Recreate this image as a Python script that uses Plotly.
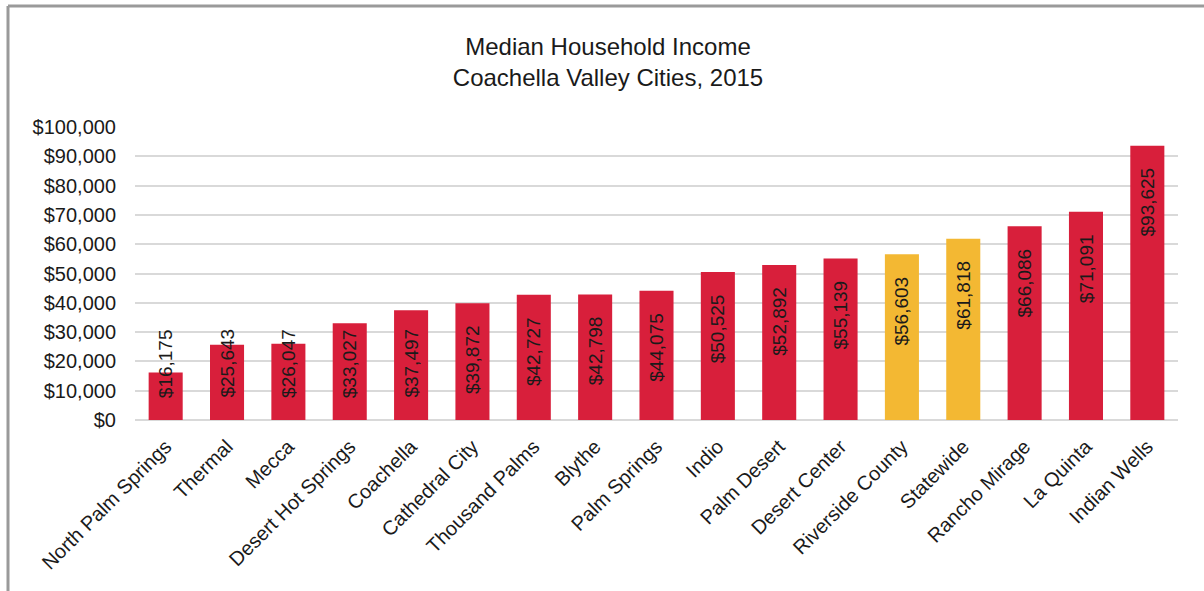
import plotly.graph_objects as go

# Median household income by place, 2015
places = [
    "North Palm Springs", "Thermal", "Mecca", "Desert Hot Springs", "Coachella",
    "Cathedral City", "Thousand Palms", "Blythe", "Palm Springs", "Indio",
    "Palm Desert", "Desert Center", "Riverside County", "Statewide",
    "Rancho Mirage", "La Quinta", "Indian Wells",
]
incomes = [
    16175, 25643, 26047, 33027, 37497, 39872, 42727, 42798, 44075, 50525,
    52892, 55139, 56603, 61818, 66086, 71091, 93625,
]
# Regional benchmarks are highlighted in gold
benchmarks = ["Riverside County", "Statewide"]

y_ticks = list(range(0, 100001, 10000))
y_tick_labels = [f"${t:,}" for t in y_ticks]

RED = "#D81F3B"
GOLD = "#F3B833"
FONT = "Liberation Sans, Arial, sans-serif"

W, H = 1204, 591
M_L, M_R, M_T, M_B = 135, 26, 127, 171
plot_h = H - M_T - M_B
y_max = 100000
px_per_unit = plot_h / y_max

colors = [GOLD if p in benchmarks else RED for p in places]

fig = go.Figure()
fig.add_trace(go.Bar(
    x=places,
    y=incomes,
    marker=dict(color=colors, line=dict(width=0)),
    hoverinfo="x+y",
))

# Value labels: near the top of tall bars, held above the base on short ones
annotations = []
for p, v in zip(places, incomes):
    label = f"${v:,}"
    if v * px_per_unit >= 110:
        annotations.append(dict(x=p, y=v, yanchor="top", yshift=-20))
    else:
        annotations.append(dict(x=p, y=0, yanchor="bottom", yshift=20))
    annotations[-1].update(
        text=label, textangle=-90, showarrow=False, xanchor="center",
        xref="x", yref="y", font=dict(family=FONT, size=19, color="#1a1a1a"),
    )

# Light gray frame along the top and left edges
fx0 = (8 - M_L) / (W - M_L - M_R)
fx1 = (W - M_L) / (W - M_L - M_R)
fy_top = 1 + (M_T - 6) / plot_h
fy_bot = -(M_B) / plot_h
shapes = [
    dict(type="line", xref="paper", yref="paper", x0=fx0, x1=fx1, y0=fy_top, y1=fy_top,
         line=dict(color="#9a9a9a", width=3)),
    dict(type="line", xref="paper", yref="paper", x0=fx0, x1=fx0, y0=fy_top, y1=fy_bot,
         line=dict(color="#9a9a9a", width=3)),
]

fig.update_layout(
    width=W, height=H,
    margin=dict(l=M_L, r=M_R, t=M_T, b=M_B),
    paper_bgcolor="white",
    plot_bgcolor="white",
    showlegend=False,
    bargap=0.445,
    title=dict(
        text="Median Household Income<br>Coachella Valley Cities, 2015",
        x=(608 - M_L) / (W - M_L - M_R), xref="paper", xanchor="center",
        y=1 - 55 / H, yanchor="middle",
        font=dict(family=FONT, size=24, color="#1a1a1a"),
    ),
    font=dict(family=FONT, color="#1a1a1a"),
    annotations=annotations,
    shapes=shapes,
)
fig.update_yaxes(
    range=[0, y_max],
    tickmode="array",
    tickvals=y_ticks,
    ticktext=y_tick_labels,
    tickfont=dict(family=FONT, size=20, color="#1a1a1a"),
    showgrid=True,
    gridcolor="#d9d9d9",
    gridwidth=1.5,
    zeroline=True,
    zerolinecolor="#d9d9d9",
    zerolinewidth=1.5,
    ticklabelstandoff=18,
    fixedrange=True,
)
fig.update_xaxes(
    tickangle=-45,
    tickfont=dict(family=FONT, size=20, color="#1a1a1a"),
    showgrid=False,
    showline=False,
    ticklabelstandoff=10,
    fixedrange=True,
)

fig.write_html("out.html")
